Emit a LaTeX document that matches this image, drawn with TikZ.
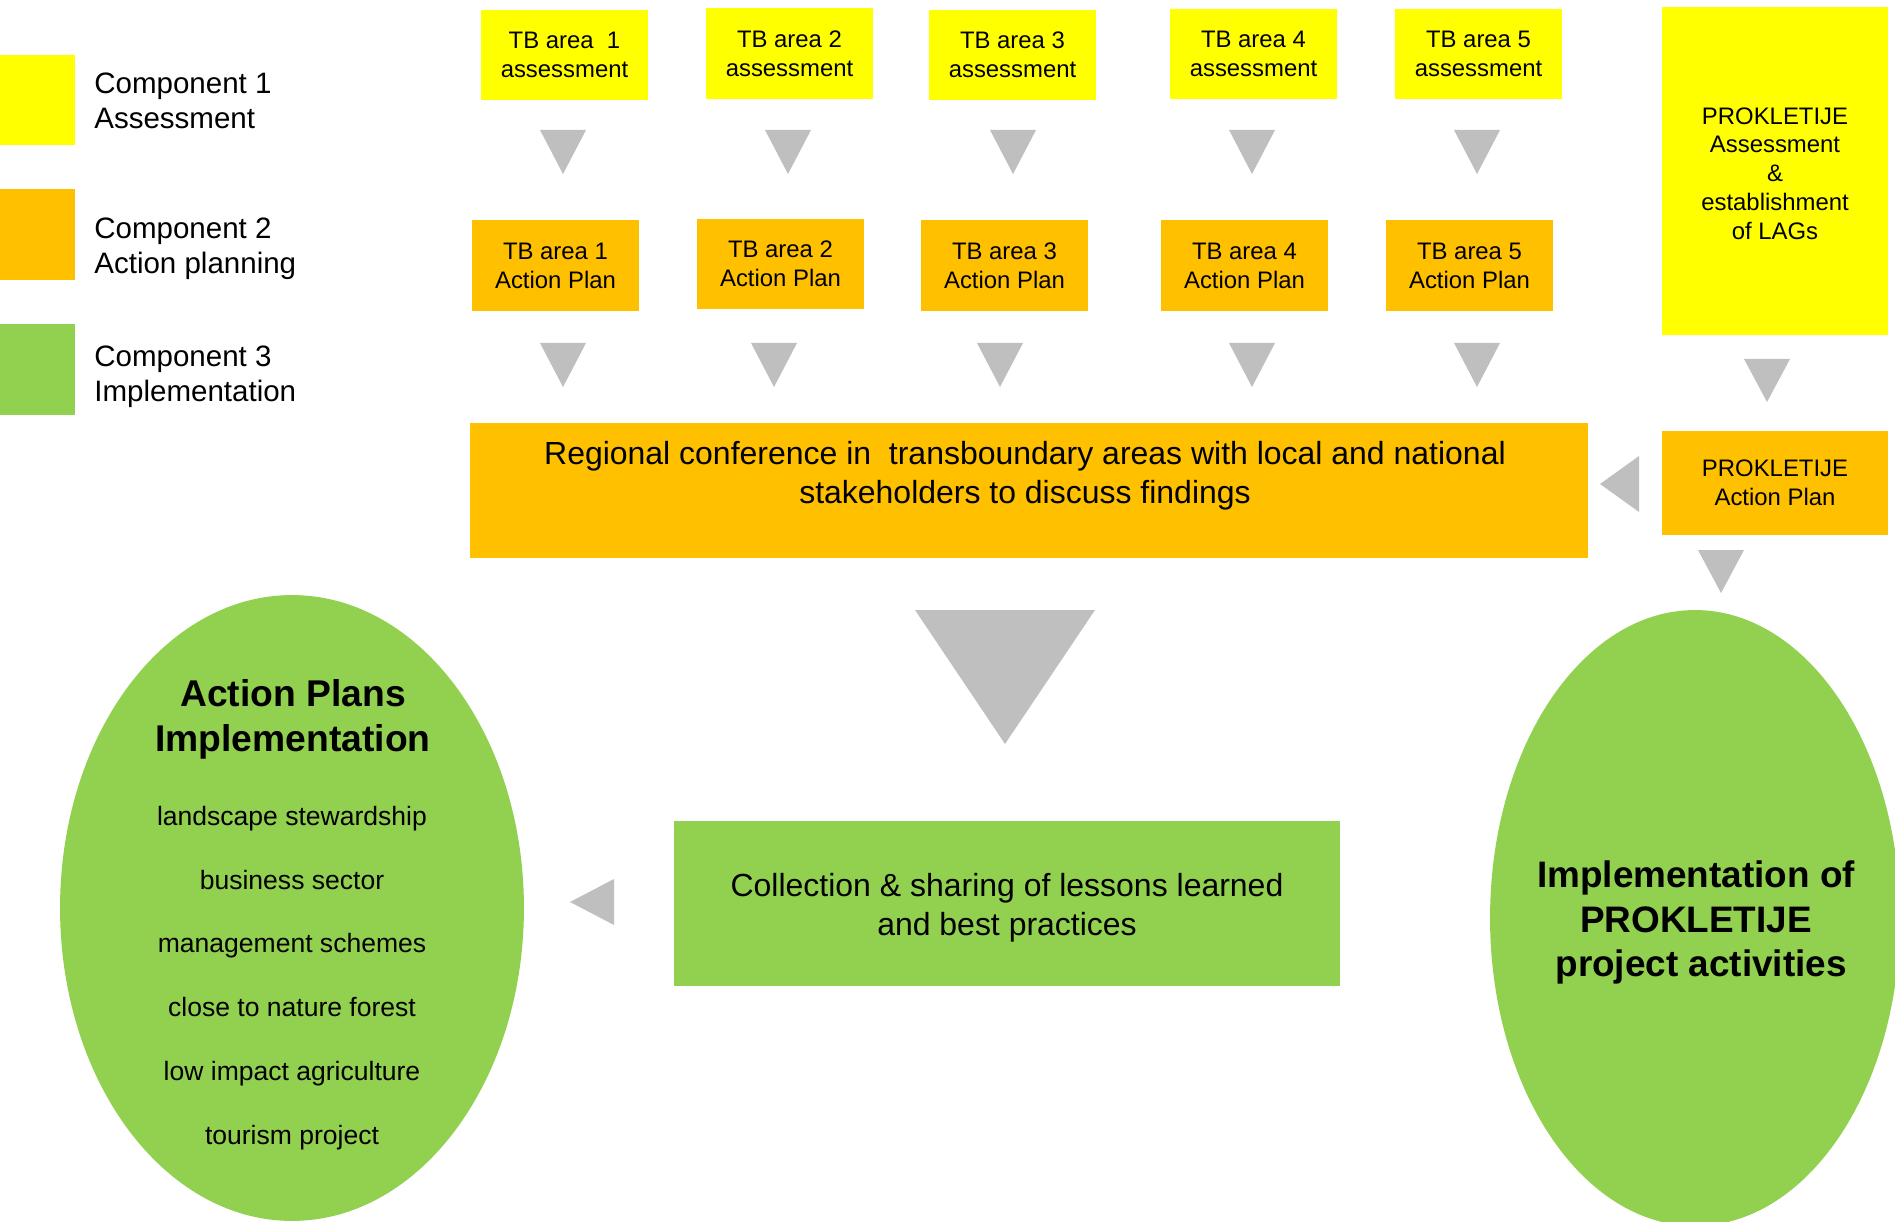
\documentclass[tikz,border=0pt]{standalone}
\usepackage{fontspec}
\setmainfont{Liberation Sans}
\usetikzlibrary{shapes.geometric}
\definecolor{cyel}{HTML}{FFFF00}
\definecolor{corg}{HTML}{FFC000}
\definecolor{cgrn}{HTML}{92D050}
\definecolor{cgray}{HTML}{BFBFBF}
\newcommand\dtri[3]{\fill[cgray] ({#1-23},#2) -- ({#1+23},#2) -- (#1,#3) -- cycle;}
\begin{document}
\begin{tikzpicture}[x=0.02cm,y=-0.02cm,
  legsq/.style={fill=#1, inner sep=0, minimum width=1.5cm, minimum height=1.82cm},
  legtxt/.style={anchor=west, align=left, inner sep=0, font=\fontsize{16.8}{19.8}\selectfont},
  smallbox/.style={fill=#1, inner sep=0, minimum width=3.34cm, minimum height=1.82cm, align=center, font=\fontsize{13.6}{16.4}\selectfont},
  prokbox/.style={fill=#1, inner sep=0, minimum width=4.52cm, align=center, font=\fontsize{13.6}{16.4}\selectfont},
  bigtxt/.style={align=center, inner sep=0, font=\fontsize{18.2}{22}\selectfont},
  ell/.style={ellipse, fill=cgrn, inner sep=0}
]
\useasboundingbox (0,0) rectangle (1895,1222);

% legend
\node[legsq=cyel] (l1) at (37.5,100) {};
\node[legsq=corg] (l2) at (37.5,234.5) {};
\node[legsq=cgrn] (l3) at (37.5,369.5) {};
\node[legtxt] (t1) at (94,101) {Component 1\\Assessment};
\node[legtxt] (t2) at (94,248.5) {Component 2\\Action planning};
\node[legtxt] (t3) at (94,376.5) {Component 3\\Implementation};

% assessment boxes
\node[smallbox=cyel] (a1) at (564.5,55) {TB area~ 1\\assessment};
\node[smallbox=cyel] (a2) at (789.5,53.5) {TB area 2\\assessment};
\node[smallbox=cyel] (a3) at (1012.5,55) {TB area 3\\assessment};
\node[smallbox=cyel] (a4) at (1253.5,54) {TB area 4\\assessment};
\node[smallbox=cyel] (a5) at (1478.5,54) {TB area 5\\assessment};

% action plan boxes
\node[smallbox=corg] (p1) at (555.5,265.5) {TB area 1\\Action Plan};
\node[smallbox=corg] (p2) at (780.5,264) {TB area 2\\Action Plan};
\node[smallbox=corg] (p3) at (1004.5,265.5) {TB area 3\\Action Plan};
\node[smallbox=corg] (p4) at (1244.5,265.5) {TB area 4\\Action Plan};
\node[smallbox=corg] (p5) at (1469.5,265.5) {TB area 5\\Action Plan};

% PROKLETIJE boxes
\node[prokbox=cyel, minimum height=6.56cm] (pa) at (1775,171) {};
\node[align=center, inner sep=0, font=\fontsize{13.6}{16.4}\selectfont] (patxt) at (1775,173.5) {PROKLETIJE\\Assessment\\\&\\establishment\\of LAGs};
\node[prokbox=corg, minimum height=2.08cm] (pp) at (1775,483) {PROKLETIJE\\Action Plan};

% conference
\node[fill=corg, inner sep=0, minimum width=22.36cm, minimum height=2.7cm] (conf) at (1029,490.5) {};
\node[bigtxt] (conftxt) at (1025,476) {Regional conference in~ transboundary areas with local and national\\stakeholders to discuss findings};

% collection
\node[fill=cgrn, inner sep=0, minimum width=13.32cm, minimum height=3.3cm] (coll) at (1007,903.5) {};
\node[bigtxt] (colltxt) at (1007,907.5) {Collection \& sharing of lessons learned\\and best practices};

% ellipses
\node[ell, minimum width=9.28cm, minimum height=12.52cm] (lell) at (292,908) {};
\node[align=center, inner sep=0, font=\bfseries\fontsize{21.2}{25.4}\selectfont] (ltitle) at (293,719.5) {Action Plans\\Implementation};
\node[align=center, inner sep=0, font=\fontsize{15.1}{36.3}\selectfont] (litems) at (292,978) {landscape stewardship\\business sector\\management schemes\\close to nature forest\\low impact agriculture\\tourism project};

\node[ell, minimum width=8.2cm, minimum height=12.32cm] (rell) at (1695,918) {};
\node[align=center, inner sep=0, font=\bfseries\fontsize{21}{25.2}\selectfont] (rtxt) at (1696,922.5) {Implementation of\ \\PROKLETIJE\\\ project activities};

% arrows row 1
\dtri{563}{130}{174}
\dtri{788}{130}{174}
\dtri{1013}{130}{174}
\dtri{1252}{130}{174}
\dtri{1477}{130}{174}
% arrows row 2
\dtri{563}{343}{387}
\dtri{774}{343}{387}
\dtri{1000}{343}{387}
\dtri{1252}{343}{387}
\dtri{1477}{343}{387}
% PROKLETIJE arrows
\dtri{1767}{359}{402}
\dtri{1721}{550}{593}
\fill[cgray] (1639,456) -- (1639,512) -- (1600,484) -- cycle;
% big triangle
\fill[cgray] (915,610) -- (1095,610) -- (1005,744) -- cycle;
% left arrow
\fill[cgray] (614,879) -- (614,925) -- (570,902) -- cycle;
\end{tikzpicture}
\end{document}
